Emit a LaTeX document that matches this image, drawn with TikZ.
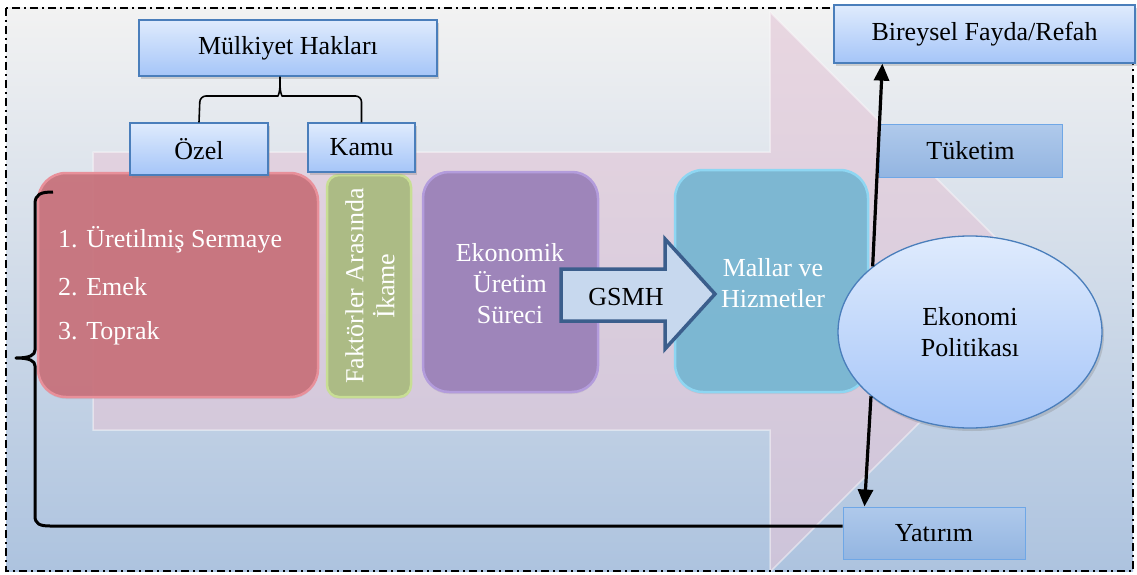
\documentclass[tikz,border=0pt]{standalone}
\usepackage{fontspec}
\setmainfont{Liberation Serif}
\newfontfamily\diagfont{Liberation Serif}
\usetikzlibrary{shadows,arrows.meta,shapes.geometric}
\definecolor{bluetop}{HTML}{DFEBFD}
\definecolor{bluebot}{HTML}{A5C5F8}
\definecolor{boxborder}{HTML}{4A7EBB}
\definecolor{flattop}{HTML}{AFC9EB}
\definecolor{flatbot}{HTML}{93B5E1}
\definecolor{flatborder}{HTML}{6FA7E6}
\definecolor{bgtop}{HTML}{F2F2F2}
\definecolor{bgmid}{HTML}{CBD7E8}
\definecolor{bgbot}{HTML}{ADC3DF}
\definecolor{pinkarrow}{HTML}{E3C5D6}
\definecolor{redF}{HTML}{C8717B}
\definecolor{redD}{HTML}{E8909A}
\definecolor{greenF}{HTML}{AABB80}
\definecolor{greenD}{HTML}{C8DE94}
\definecolor{purpF}{HTML}{9B81B9}
\definecolor{purpD}{HTML}{B39CDC}
\definecolor{cyanF}{HTML}{77B7D3}
\definecolor{cyanD}{HTML}{8ED6F2}
\definecolor{gsmhfill}{HTML}{C7D8EE}
\definecolor{gsmhborder}{HTML}{3B5E8C}
\begin{document}
\begin{tikzpicture}[x=1pt,y=-1pt,
  txt/.style={font=\diagfont\fontsize{26}{31}\selectfont, align=center, inner sep=0pt},
  wtxt/.style={txt, text=white},
  bluebox/.style={txt, draw=boxborder, line width=1.3pt, top color=bluetop, bottom color=bluebot,
    drop shadow={shadow xshift=2pt, shadow yshift=-3pt, opacity=0.3}},
  flatbox/.style={txt, draw=flatborder, line width=1pt, top color=flattop, bottom color=flatbot},
  softbox/.style={inner sep=0pt, line width=2.5pt, fill opacity=0.93,
    drop shadow={shadow xshift=0pt, shadow yshift=-2pt, opacity=0.15}},
  braceline/.style={line width=1.6pt, line join=round},
  bigbrace/.style={line width=3pt, line join=round},
  conn/.style={line width=3.2pt, -{Triangle[length=17pt,width=15pt]}},
  framestyle/.style={line width=1.2pt, dash pattern=on 8pt off 4pt on 2pt off 4pt}
]
\useasboundingbox (0,0) rectangle (1137,575);
% background
\shade[top color=bgtop, middle color=bgmid, bottom color=bgbot] (6,8) rectangle (1133,571);
% big translucent arrow
\fill[pinkarrow, fill opacity=0.6] (93,152) -- (770,152) -- (770,12) -- (1050,292) -- (770,572) -- (770,430) -- (93,430) -- cycle;
\draw[white, opacity=0.45, line width=1.5pt] (93,152) -- (770,152) -- (770,12) -- (1050,292) -- (770,572) -- (770,430) -- (93,430) -- cycle;
% frame
\draw[framestyle] (6,8) rectangle (1133,571);

% rounded blocks
\node[softbox, draw=redD, fill=redF, rounded corners=28pt,
  minimum width=280pt, minimum height=224pt] (red) at (178,285) {};
\node[softbox, draw=greenD, fill=greenF, rounded corners=12pt,
  minimum width=84pt, minimum height=222pt] (green) at (369,286) {};
\node[softbox, draw=purpD, fill=purpF, rounded corners=26pt,
  minimum width=175pt, minimum height=220pt] (purp) at (510.5,282) {};
\node[softbox, draw=cyanD, fill=cyanF, rounded corners=28pt,
  minimum width=193pt, minimum height=222pt] (cyan) at (771.5,281) {};

% texts in blocks
\node[wtxt, anchor=west] (r1) at (58,240) {1. Üretilmiş Sermaye};
\node[wtxt, anchor=west] (r2) at (58,287) {2. Emek};
\node[wtxt, anchor=west] (r3) at (58,333) {3. Toprak};
\node[wtxt, rotate=90] (gtext) at (370,286) {Faktörler Arasında\\İkame};
\node[wtxt] (ptext) at (510,284) {Ekonomik\\Üretim\\Süreci};
\node[wtxt] (ctext) at (773,283) {Mallar ve\\Hizmetler};

% GSMH arrow
\draw[fill=gsmhfill, draw=gsmhborder, line width=3.5pt, line join=miter]
  (561,269) -- (665,269) -- (665,239) -- (715,294) -- (665,349) -- (665,321) -- (561,321) -- cycle;
\node[txt] (gsmh) at (626,297) {GSMH};

% top boxes
\node[bluebox, minimum width=298pt, minimum height=56pt] (mhak) at (288,48) {Mülkiyet Hakları};
\node[bluebox, minimum width=138pt, minimum height=52pt] (ozel) at (199,149) {Özel};
\node[bluebox, minimum width=107pt, minimum height=49pt] (kamu) at (361.5,147.5) {Kamu};

% brace under Mülkiyet Hakları
\draw[braceline] (ozel.north) [rounded corners=6pt] -- (200,96) -- (272,96) [sharp corners]
  .. controls (278,96) and (280,92) .. (280,85) -- (mhak.south -| 280,0);
\draw[braceline] (kamu.north) [rounded corners=6pt] -- (kamu.north |- 0,96) -- (288,96) [sharp corners]
  .. controls (282,96) and (280,92) .. (280,85);

% right side
\node[bluebox, ellipse, minimum width=264pt, minimum height=192pt] (ell) at (970,332) {Ekonomi\\Politikası};
\node[bluebox, minimum width=301pt, minimum height=58pt] (bir) at (984.5,34) {Bireysel Fayda/Refah};
\node[flatbox, minimum width=183pt, minimum height=52pt] (tuk) at (970.5,151) {Tüketim};
\node[flatbox, minimum width=182pt, minimum height=52pt] (yat) at (934,533) {Yatırım};

% connectors
\draw[conn] (ell.146) -- ([xshift=49pt]bir.south west);
\draw[conn] (ell.213) -- ([xshift=22pt]yat.north west);

% big left brace
\draw[bigbrace] (53,192) .. controls (41,192) and (35,194) .. (35,204) -- (35,350)
  .. controls (35,355) and (30,358) .. (16,358)
  .. controls (30,358) and (35,361) .. (35,366) -- (35,516)
  .. controls (35,524) and (40,526) .. (50,526) -- ([yshift=7pt]yat.west);
\end{tikzpicture}
\end{document}
